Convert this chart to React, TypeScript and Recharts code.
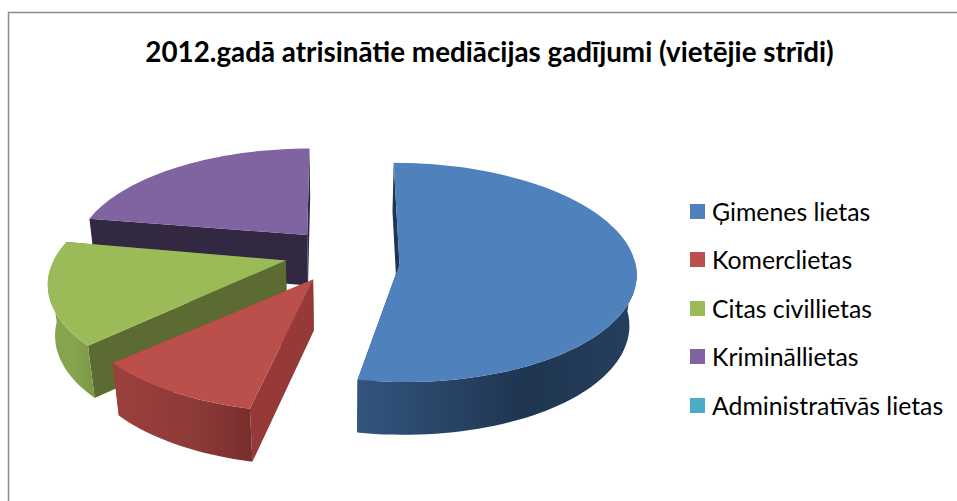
import { PieChart, Pie, Legend } from "recharts";

const CATEGORIES = ["Ģimenes lietas", "Komerclietas", "Citas civillietas", "Krimināllietas", "Administratīvās lietas"];
const VALUES = [53, 10.5, 15.5, 21, 0];
const COLORS = ["#4f81bd", "#bb4f4b", "#9bbb59", "#8064a2", "#4bacc6"];
// cut-edge wall colour of each slice
const EDGE_COLORS = ["#1f3550", "#953a38", "#5b6b31", "#332842", "#2a6475"];
// outer wall gradient stops (left, middle, right)
const WALL_STOPS = [
  ["#32557f", "#1f3550", "#253f5e"],
  ["#9c403d", "#8c3a38", "#772e2d"],
  ["#86a34e", "#86a34e", "#7c9646"],
  ["#5c4876", "#4a3a60", "#3a2e4c"],
  ["#2a6475", "#2a6475", "#2a6475"],
];
// exploded slices look a bit turned in the original's perspective (degrees)
const RIM_TWIST = [0, 2.5, 2, 0, 0];

const TITLE = "2012.gadā atrisinātie mediācijas gadījumi (vietējie strīdi)";

const WIDTH = 957;
const HEIGHT = 501;
const FONT = "Lato, 'Open Sans', sans-serif";

// fake 3D: tilted plane seen with a little perspective
const SQUASH = 0.46;
const PERSPECTIVE = 0.096;
const ROLL = 16; // only shifts the exploded slice, not its rim
const DEPTH = 52;
const DEPTH_SHRINK = 0.025;
const EXPLODE = 0.245;
// small drop of each rim against its apex, grows with the explode direction
const RIM_DY = [4.4, -28];

// slices are drawn back to front so the front ones overlap the back ones
const pieData = CATEGORIES.map((name, i) => ({
  name,
  value: VALUES[i],
  colorIndex: i,
})).reverse();

function toPath(points: number[][]) {
  return points.map((p, i) => `${i ? "L" : "M"}${p[0].toFixed(1)} ${p[1].toFixed(1)}`).join(" ") + " Z";
}

function Slice3D(props: any) {
  const { cx, cy, outerRadius, startAngle, endAngle, payload } = props;
  const idx = payload.colorIndex;
  if (Math.abs(endAngle - startAngle) < 0.01) return null;

  const mid = (((startAngle + endAngle) / 2) * Math.PI) / 180;
  const apexU = EXPLODE * Math.cos(mid);
  const apexV = -EXPLODE * Math.sin(mid);

  const rimPoints: number[][] = [];
  const steps = Math.max(2, Math.ceil(Math.abs(endAngle - startAngle) / 2));
  for (let s = 0; s <= steps; s++) {
    const deg = startAngle + ((endAngle - startAngle) * s) / steps - RIM_TWIST[idx];
    const a = (deg * Math.PI) / 180;
    rimPoints.push([apexU + Math.cos(a), apexV - Math.sin(a)]);
  }
  const at = (p: number[], z: number, rim = 0) => {
    const w = 1 - PERSPECTIVE * p[1] + DEPTH_SHRINK * z;
    return [
      cx + (outerRadius * p[0]) / w,
      cy + ROLL * apexU + (outerRadius * SQUASH * p[1] + DEPTH * z) / w + rim * (RIM_DY[0] + RIM_DY[1] * apexU),
    ];
  };
  const apex = [apexU, apexV];

  const top = [at(apex, 0), ...rimPoints.map((p) => at(p, 0, 1))];
  // only the part of the rim that faces the viewer gets a wall
  const frontRim = rimPoints.filter((p) => p[1] - apexV > -0.02);
  const outer = [...frontRim.map((p) => at(p, 0, 1)), ...frontRim.map((p) => at(p, 1, 1)).reverse()];

  const first = rimPoints[0];
  const last = rimPoints[rimPoints.length - 1];
  const edgeA = [at(apex, 0), at(first, 0, 1), at(first, 1, 1), at(apex, 1)];
  const edgeB = [at(apex, 0), at(last, 0, 1), at(last, 1, 1), at(apex, 1)];

  return (
    <g>
      <path d={toPath(edgeA)} fill={EDGE_COLORS[idx]} />
      <path d={toPath(edgeB)} fill={EDGE_COLORS[idx]} />
      {frontRim.length > 1 && <path d={toPath(outer)} fill={`url(#wall-${idx})`} />}
      <path d={toPath(top)} fill={COLORS[idx]} />
    </g>
  );
}

function LegendList() {
  return (
    <div style={{ fontFamily: FONT, fontSize: 24.8, color: "#000" }}>
      {CATEGORIES.map((name, i) => (
        <div key={name} style={{ display: "flex", alignItems: "center", height: 48.5, whiteSpace: "nowrap" }}>
          <span style={{ width: 15, height: 15, background: COLORS[i], marginRight: 7 }} />
          {name}
        </div>
      ))}
    </div>
  );
}

export default function App() {
  return (
    <div style={{ position: "absolute", left: 0, top: 0, width: WIDTH, height: HEIGHT, background: "#fff" }}>
      <PieChart width={WIDTH} height={HEIGHT} margin={{ top: 0, right: 0, bottom: 0, left: 0 }}>
        <defs>
          {WALL_STOPS.map((stops, i) => (
            <linearGradient key={i} id={`wall-${i}`} x1="0" y1="0" x2="1" y2="0">
              <stop offset="0%" stopColor={stops[0]} />
              <stop offset="60%" stopColor={stops[1]} />
              <stop offset="100%" stopColor={stops[2]} />
            </linearGradient>
          ))}
        </defs>
        <path d="M8.5 501 V12.5 H957" fill="none" stroke="#8c8c8c" strokeWidth={1.5} />
        <text x={489.5} y={62} textAnchor="middle" fontFamily={FONT} fontWeight={700} fontSize={27.8} fill="#000">
          {TITLE}
        </text>
        <Pie
          data={pieData}
          dataKey="value"
          nameKey="name"
          cx={342}
          cy={258}
          outerRadius={235}
          startAngle={-269.8}
          endAngle={90.2}
          stroke="none"
          shape={Slice3D}
          isAnimationActive={false}
        />
        <Legend
          content={<LegendList />}
          layout="vertical"
          align="right"
          verticalAlign="top"
          wrapperStyle={{ left: 690, top: 187, width: 262 }}
        />
      </PieChart>
    </div>
  );
}
